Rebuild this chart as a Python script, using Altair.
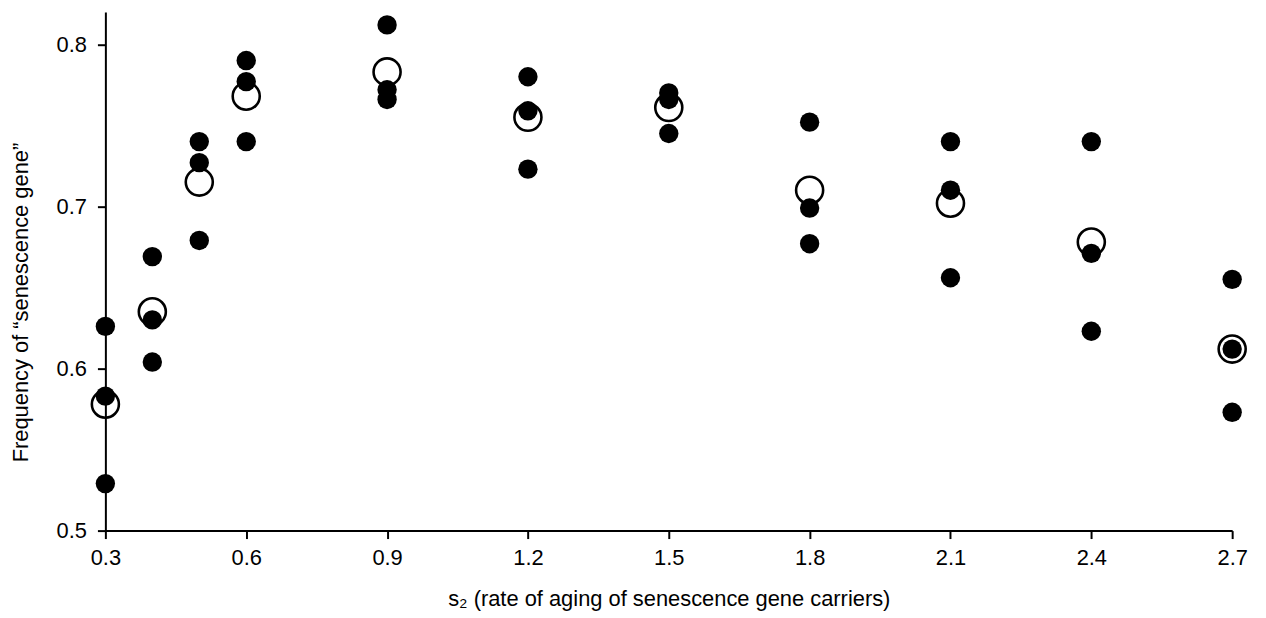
import altair as alt
import pandas as pd

# s2 values (x categories)
s2 = [0.3, 0.4, 0.5, 0.6, 0.9, 1.2, 1.5, 1.8, 2.1, 2.4, 2.7]

# individual runs (filled dots), three per s2 value
run_a = [0.626, 0.669, 0.740, 0.790, 0.812, 0.780, 0.770, 0.752, 0.740, 0.740, 0.655]
run_b = [0.583, 0.630, 0.727, 0.777, 0.772, 0.759, 0.766, 0.699, 0.710, 0.671, 0.612]
run_c = [0.529, 0.604, 0.679, 0.740, 0.766, 0.723, 0.745, 0.677, 0.656, 0.623, 0.573]

# averages (open circles)
mean_vals = [0.578, 0.635, 0.715, 0.768, 0.783, 0.755, 0.761, 0.710, 0.702, 0.678, 0.612]

x_ticks = [0.3, 0.6, 0.9, 1.2, 1.5, 1.8, 2.1, 2.4, 2.7]
y_ticks = [0.5, 0.6, 0.7, 0.8]

runs = pd.DataFrame({
    "s2": s2 * 3,
    "freq": run_a + run_b + run_c,
})
means = pd.DataFrame({"s2": s2, "freq": mean_vals})

FONT = "Liberation Sans"
FS = 22

x_enc = alt.X(
    "s2:Q",
    scale=alt.Scale(domain=[0.3, 2.7], nice=False, zero=False),
    axis=alt.Axis(
        values=x_ticks,
        format=".1f",
        title="s\u2082 (rate of aging of senescence gene carriers)",
        grid=False,
        domainColor="black",
        domainWidth=2,
        tickColor="black",
        tickWidth=2,
        tickSize=8,
        labelFontSize=FS,
        labelFont=FONT,
        labelColor="black",
        labelPadding=9,
        titleFont=FONT,
        titleFontSize=FS,
        titleFontWeight="normal",
        titleColor="black",
        titlePadding=20,
        labelFlush=False,
    ),
)

y_enc = alt.Y(
    "freq:Q",
    scale=alt.Scale(domain=[0.5, 0.82], nice=False, zero=False),
    axis=alt.Axis(
        values=y_ticks,
        format=".1f",
        title="Frequency of \u201csenescence gene\u201d",
        grid=False,
        domainColor="black",
        domainWidth=2,
        tickColor="black",
        tickWidth=2,
        tickSize=8,
        labelFontSize=FS,
        labelFont=FONT,
        labelColor="black",
        labelPadding=11,
        titleFont=FONT,
        titleFontSize=FS,
        titleFontWeight="normal",
        titleColor="black",
        titleX=-73,
        titleY=292,
        labelFlush=False,
    ),
)

open_pts = alt.Chart(means).mark_point(
    shape="circle", filled=False, stroke="black", strokeWidth=2.6, size=740, opacity=1
).encode(x=x_enc, y=y_enc)

filled_pts = alt.Chart(runs).mark_point(
    shape="circle", filled=True, fill="black", stroke="black", strokeWidth=0, size=380, opacity=1
).encode(x="s2:Q", y="freq:Q")

chart = (
    alt.layer(open_pts, filled_pts)
    .properties(
        width=1134,
        height=522,
        autosize=alt.AutoSizeParams(type="none"),
        padding={"left": 98, "top": 2, "right": 26, "bottom": 86},
    )
    .configure_view(stroke=None)
)

chart.save("out.html", embed_options={"renderer": "svg", "actions": False})
